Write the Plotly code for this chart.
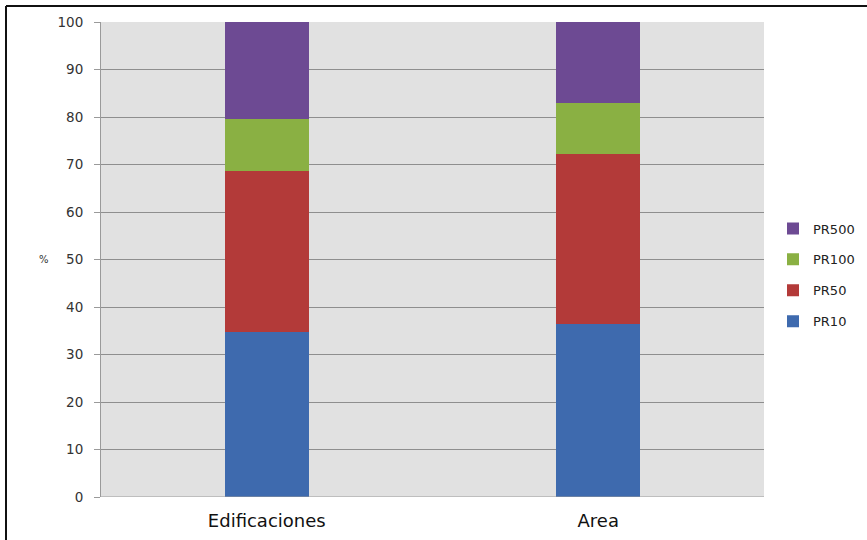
import plotly.graph_objects as go

# Share (%) of each return period per category
categories = ["Edificaciones", "Area"]
series_names = ["PR10", "PR50", "PR100", "PR500"]
pr10 = [34.7, 36.4]
pr50 = [34.0, 35.9]
pr100 = [10.9, 10.7]
pr500 = [20.4, 17.0]
series_values = [pr10, pr50, pr100, pr500]
colors = ["#3E6AAE", "#B33A39", "#8AB043", "#6D4A93"]
y_ticks = list(range(0, 101, 10))

fig = go.Figure()
for i, (name, vals, col) in enumerate(zip(series_names, series_values, colors)):
    fig.add_trace(go.Bar(
        x=categories, y=vals, name=name, legendgroup=name,
        legendrank=len(series_names) - i,
        marker=dict(color=col, line=dict(width=0)),
        width=0.253,
    ))

fig.update_layout(
    barmode="stack",
    width=867, height=540,
    margin=dict(l=101, r=103, t=22, b=43, autoexpand=False),
    paper_bgcolor="white",
    plot_bgcolor="#E1E1E1",
    font=dict(family="DejaVu Sans, sans-serif", color="#222"),
    showlegend=True,
    legend=dict(
        xref="container", yref="container",
        x=773 / 867, xanchor="left", y=1 - 275 / 540, yanchor="middle",
        traceorder="grouped", tracegroupgap=11,
        font=dict(size=13, color="#222"),
        itemwidth=30, bgcolor="rgba(0,0,0,0)",
    ),
    xaxis=dict(
        showgrid=False, showline=False, ticks="",
        tickfont=dict(size=18, color="#111"),
        ticklabelstandoff=11,
    ),
    yaxis=dict(
        range=[0, 100], tickvals=y_ticks, showgrid=True,
        gridcolor="#8E8E8E", gridwidth=1,
        showline=True, linecolor="#9A9A9A", linewidth=1,
        ticks="outside", ticklen=6, tickcolor="#9A9A9A",
        tickfont=dict(size=13.5, color="#333"),
        ticklabelstandoff=8,
        zeroline=False,
    ),
    shapes=[
        # outer frame: top and left edges
        dict(type="line", xref="paper", yref="paper",
             x0=-95 / 663, x1=1.2, y0=1 + 16 / 475, y1=1 + 16 / 475,
             line=dict(color="#111", width=2)),
        dict(type="line", xref="paper", yref="paper",
             x0=-95 / 663, x1=-95 / 663, y0=-0.2, y1=1 + 16 / 475,
             line=dict(color="#111", width=2)),
        # baseline at zero
        dict(type="line", xref="paper", yref="y",
             x0=0, x1=1, y0=0, y1=0, line=dict(color="#9A9A9A", width=1)),
    ],
    annotations=[
        dict(text="%", xref="paper", yref="paper", x=-64 / 663, y=0.5,
             showarrow=False, font=dict(size=10, color="#333")),
    ],
)

fig.write_html("out.html")
